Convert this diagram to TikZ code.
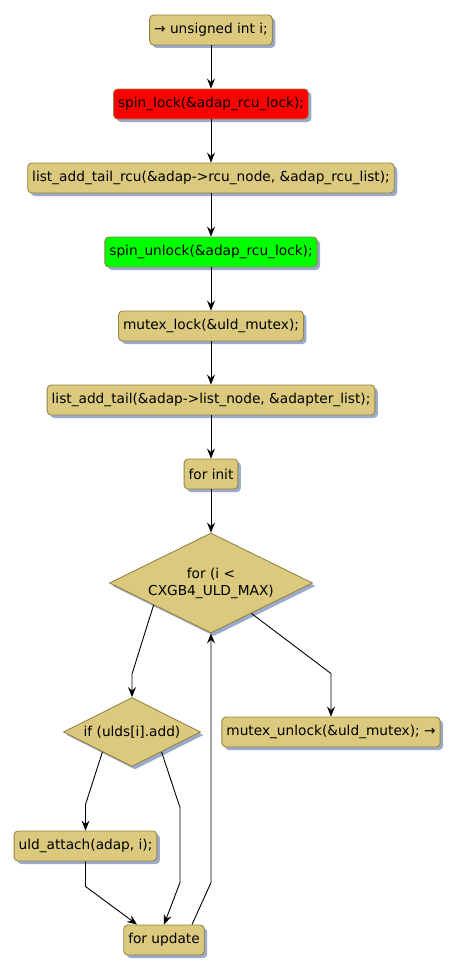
\documentclass[tikz,border=0pt]{standalone}
\usepackage{fontspec}
\setmainfont{DejaVu Sans}
\usetikzlibrary{shapes.geometric,shadows,arrows.meta}

\definecolor{vulkleur}{RGB}{219,201,126}
\definecolor{randkleur}{RGB}{150,132,70}
\definecolor{schaduw}{RGB}{154,170,203}

\begin{document}
\begin{tikzpicture}[x=1pt,y=-1pt,>={Stealth[length=10pt,width=8pt,inset=3.5pt]}]

% --- Stijldefinities ---
\tikzset{
    blok/.style={
        draw=randkleur,
        fill=vulkleur,
        line width=0.9pt,
        rounded corners=4pt,
        minimum height=30pt,
        inner xsep=4.5pt,
        font=\fontsize{13.7}{17}\selectfont,
        drop shadow={shadow xshift=3pt, shadow yshift=-3pt, fill=schaduw, opacity=1}
    },
    ruit/.style={
        blok,
        diamond,
        aspect=2,
        sharp corners,
        inner sep=0pt,
        align=center
    },
    pijl/.style={
        ->,
        line width=0.9pt,
        draw=black
    }
}

\useasboundingbox (0,0) rectangle (459,974);

% --- Knooppunten (Nodes) ---

% Hoofdlijn
\node[blok] (ndecl) at (211,30) {→ unsigned int i;};
\node[blok, fill=red] (nlock) at (211,104) {spin\_lock(\&adap\_rcu\_lock);};
\node[blok] (nrcu) at (211,178) {list\_add\_tail\_rcu(\&adap->rcu\_node, \&adap\_rcu\_list);};
\node[blok, fill=green] (nunlock) at (211,252) {spin\_unlock(\&adap\_rcu\_lock);};
\node[blok] (nmutex) at (211,326) {mutex\_lock(\&uld\_mutex);};
\node[blok] (nlist) at (211,400) {list\_add\_tail(\&adap->list\_node, \&adapter\_list);};
\node[blok] (ninit) at (211,474) {for init};

% Lus
\node[ruit, minimum width=203pt, minimum height=100pt] (nfor) at (211,583) {for (i <\\CXGB4\_ULD\_MAX)};
\node[ruit, minimum width=137pt, minimum height=69pt] (nif) at (132,732) {if (ulds[i].add)};
\node[blok] (nunl) at (331,732) {mutex\_unlock(\&uld\_mutex); →};
\node[blok] (nuld) at (85.5,846) {uld\_attach(adap, i);};
\node[blok] (nupd) at (164,940) {for update};

% --- Pijlen ---

% Hoofdlijn
\draw[pijl] (ndecl) -- (nlock);
\draw[pijl] (nlock) -- (nrcu);
\draw[pijl] (nrcu) -- (nunlock);
\draw[pijl] (nunlock) -- (nmutex);
\draw[pijl] (nmutex) -- (nlist);
\draw[pijl] (nlist) -- (ninit);
\draw[pijl] (ninit) -- (nfor);

% Vanaf de lus
\draw[pijl] (nfor.201) -- ([yshift=23pt]nif.north) -- (nif.north);
\draw[pijl] (nfor.323) -- ([yshift=43pt]nunl.north) -- (nunl.north);

% Vanaf if
\draw[pijl] (nif.214) -- ([yshift=26pt]nuld.north) -- (nuld.north);
\draw[pijl] (nif.326) -- ([xshift=16pt,yshift=117pt]nupd.north) -- ([xshift=16pt,yshift=42pt]nupd.north) -- (nupd.north);

% Terug naar de lus
\draw[pijl] (nuld.south) -- ([yshift=-25pt]nuld.south) -- ([xshift=-27pt]nupd.north);
\coordinate (knik) at ([yshift=42pt]nupd.north);
\draw[pijl] ([xshift=28pt]nupd.north) -- (knik -| nfor.south) -- (nfor.south);

\end{tikzpicture}
\end{document}
